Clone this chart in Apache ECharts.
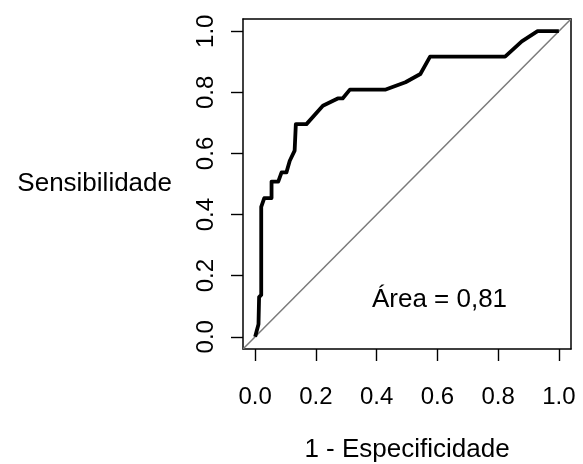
<!DOCTYPE html>
<html>
<head>
<meta charset="utf-8">
<script src="https://cdn.jsdelivr.net/npm/echarts@6/dist/echarts.min.js"></script>
<style>
  html, body { margin: 0; padding: 0; background: #fff; }
  #chart { width: 583px; height: 464px; }
</style>
</head>
<body>
<div id="chart"></div>
<script>
// ROC curve points (1 - especificidade, sensibilidade)
const fpr = [0, 0.011, 0.013, 0.020, 0.020, 0.030, 0.054, 0.054, 0.076, 0.087, 0.103, 0.114, 0.130,
  0.134, 0.169, 0.223, 0.272, 0.288, 0.312, 0.430, 0.495, 0.544, 0.576, 0.823, 0.878, 0.930, 1.0]
const tpr = [0, 0.041, 0.130, 0.137, 0.425, 0.454, 0.454, 0.508, 0.508, 0.538, 0.538, 0.576, 0.609,
  0.696, 0.696, 0.756, 0.780, 0.780, 0.809, 0.809, 0.833, 0.860, 0.917, 0.917, 0.967, 1.0, 1.0]
// reference line across the plot region
const diagX = [-0.04, 1.04]
const diagY = [-0.04, 1.04]
const ticks = [0, 0.2, 0.4, 0.6, 0.8, 1.0]
const areaText = 'Área = 0,81'
const areaPos = [0.607, 0.122]

const font = '"Liberation Sans", Arial, Helvetica, sans-serif'
const chart = echarts.init(document.getElementById('chart'))

const boxLine = { show: true, onZero: false, lineStyle: { color: '#000', width: 1.5 } }

chart.setOption({
  animation: false,
  backgroundColor: '#fff',
  textStyle: { fontFamily: font },
  grid: { left: 243, right: 12, top: 19, bottom: 115, outerBoundsMode: 'none', containLabel: false },
  xAxis: [
    {
      type: 'value', min: -0.04, max: 1.04, position: 'bottom',
      name: '1 - Especificidade', nameLocation: 'middle', nameGap: 88,
      nameTextStyle: { fontSize: 26, color: '#000', fontFamily: font },
      axisLine: boxLine,
      axisTick: { show: true, length: 12, customValues: ticks, lineStyle: { color: '#000', width: 1.4 } },
      axisLabel: {
        show: true, customValues: ticks, margin: 36, fontSize: 24, color: '#000', fontFamily: font,
        formatter: v => v.toFixed(1)
      },
      splitLine: { show: false }
    },
    {
      type: 'value', min: -0.04, max: 1.04, position: 'top',
      axisLine: boxLine, axisTick: { show: false }, axisLabel: { show: false }, splitLine: { show: false }
    }
  ],
  yAxis: [
    {
      type: 'value', min: -0.04, max: 1.04, position: 'left',
      name: 'Sensibilidade', nameLocation: 'middle', nameRotate: 0, nameGap: 71,
      nameTextStyle: { fontSize: 26, color: '#000', fontFamily: font, align: 'right' },
      axisLine: boxLine,
      axisTick: { show: true, length: 12, customValues: ticks, lineStyle: { color: '#000', width: 1.4 } },
      axisLabel: {
        show: true, customValues: ticks, margin: 25, rotate: 90, fontSize: 24, color: '#000', fontFamily: font,
        formatter: v => v.toFixed(1)
      },
      splitLine: { show: false }
    },
    {
      type: 'value', min: -0.04, max: 1.04, position: 'right',
      axisLine: boxLine, axisTick: { show: false }, axisLabel: { show: false }, splitLine: { show: false }
    }
  ],
  series: [
    {
      type: 'line',
      data: diagX.map((x, i) => [x, diagY[i]]),
      symbol: 'none',
      lineStyle: { color: '#7a7a7a', width: 1.5 },
      silent: true,
      markPoint: {
        symbol: 'circle', symbolSize: 0,
        data: [{ coord: areaPos, value: areaText }],
        label: { show: true, position: 'inside', formatter: areaText, fontSize: 26, color: '#000', fontFamily: font }
      }
    },
    {
      type: 'line',
      data: fpr.map((x, i) => [x, tpr[i]]),
      symbol: 'none',
      lineStyle: { color: '#000', width: 3.8, join: 'round' },
      silent: true
    }
  ]
})
</script>
</body>
</html>
